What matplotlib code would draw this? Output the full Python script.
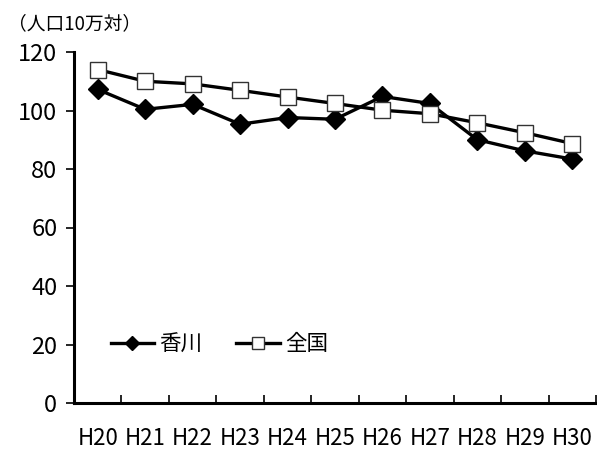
import matplotlib
matplotlib.use("Agg")
import matplotlib.pyplot as plt

plt.rcParams["font.family"] = ["Noto Sans CJK JP", "DejaVu Sans"]

years = ["H20", "H21", "H22", "H23", "H24", "H25", "H26", "H27", "H28", "H29", "H30"]
kagawa = [107.2, 100.4, 102.1, 95.3, 97.6, 97.0, 104.8, 102.4, 90.0, 86.2, 83.4]
zenkoku = [114.0, 110.0, 109.1, 106.9, 104.6, 102.4, 100.1, 98.9, 95.8, 92.4, 88.7]

W, H = 597, 451
fig = plt.figure(figsize=(W / 100, H / 100), dpi=100)
ax = fig.add_axes([74 / W, (H - 403) / H, (596 - 74) / W, (403 - 52) / H])

x = list(range(len(years)))
ax.plot(x, kagawa, color="black", lw=2.4, marker="D", markersize=10,
        markerfacecolor="black", markeredgecolor="black", label="香川", zorder=3)
ax.plot(x, zenkoku, color="black", lw=2.4, marker="s", markersize=11,
        markerfacecolor="white", markeredgecolor="#333333", markeredgewidth=1,
        label="全国", zorder=3)

ax.set_xlim(-0.5, len(years) - 0.5)
ax.set_ylim(0, 120)
ax.set_yticks(range(0, 121, 20))
ax.set_xticks(x)
ax.set_xticklabels(years)
ax.set_xticks([i + 0.5 for i in x], minor=True)

for s in ["top", "right"]:
    ax.spines[s].set_visible(False)
for s in ["left", "bottom"]:
    ax.spines[s].set_linewidth(2.2)

ax.tick_params(axis="y", direction="out", length=6, width=1.2, labelsize=17, pad=6)
ax.tick_params(axis="x", which="major", length=0, labelsize=16, pad=17)
ax.tick_params(axis="x", which="minor", direction="in", length=6, width=1.2)

leg = ax.legend(loc="center left", bbox_to_anchor=(0.033, 0.167), ncol=2, frameon=False,
                fontsize=15.5, handlelength=2.0, markerscale=0.75, columnspacing=1.6,
                handletextpad=0.25)

fig.text(8 / W, 1 - 24 / H, "（人口10万対）", fontsize=13.5, va="center", ha="left")

fig.savefig("out.png", dpi=100)
